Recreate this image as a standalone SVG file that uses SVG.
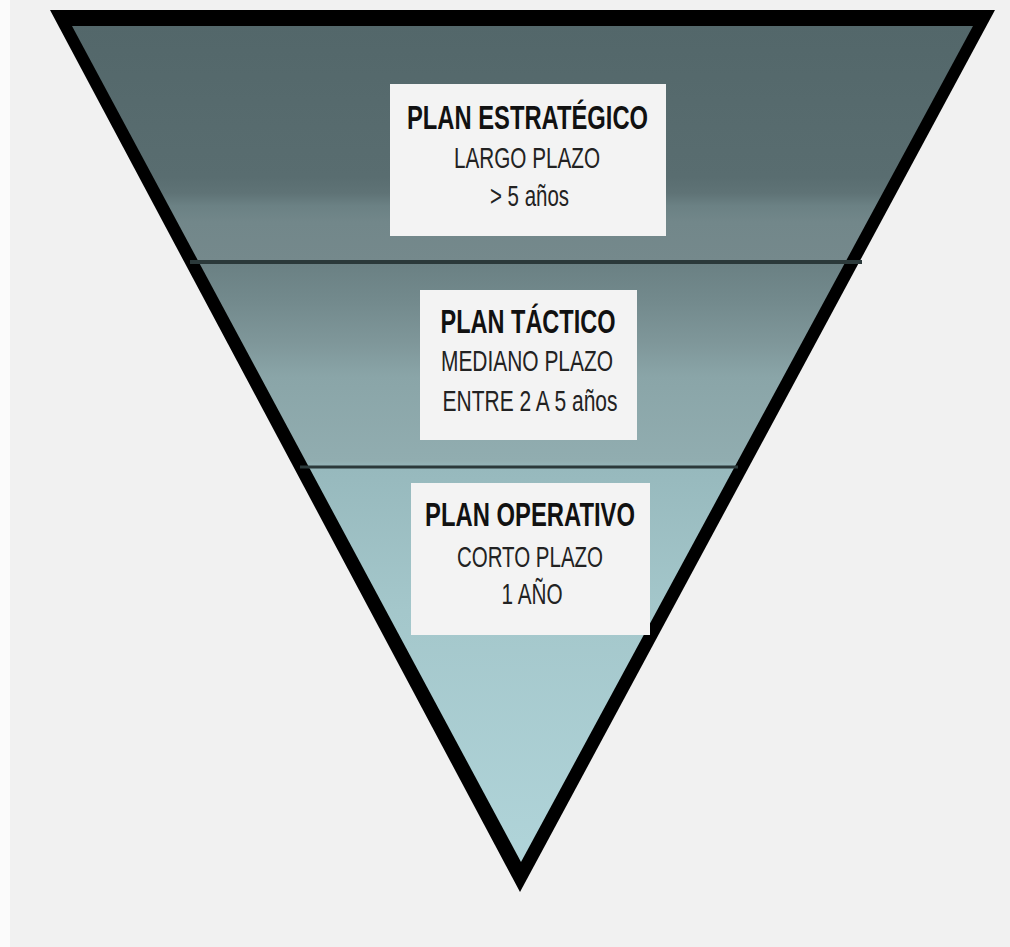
<svg xmlns="http://www.w3.org/2000/svg" width="1010" height="947" viewBox="0 0 1010 947">
  <defs>
    <linearGradient id="fillGrad" gradientUnits="userSpaceOnUse" x1="0" y1="26" x2="0" y2="862">
      <stop offset="0" stop-color="#53676a"/>
      <stop offset="0.18" stop-color="#596d70"/>
      <stop offset="0.2" stop-color="#5f7376"/>
      <stop offset="0.215" stop-color="#6b8184"/>
      <stop offset="0.235" stop-color="#72878a"/>
      <stop offset="0.28" stop-color="#75898c"/>
      <stop offset="0.282" stop-color="#6a8083"/>
      <stop offset="0.33" stop-color="#738a8d"/>
      <stop offset="0.38" stop-color="#7f979a"/>
      <stop offset="0.42" stop-color="#8aa5a8"/>
      <stop offset="0.52" stop-color="#91adb0"/>
      <stop offset="0.53" stop-color="#97b9bd"/>
      <stop offset="0.7" stop-color="#a4c7cb"/>
      <stop offset="1" stop-color="#b0d4d9"/>
    </linearGradient>
    <style>
      .box { fill: #f3f3f3; }
      .head { font-family: "Liberation Sans", Arial, sans-serif; font-weight: bold; font-size: 34px; fill: #111; text-anchor: middle; }
      .sub { font-family: "Liberation Sans", Arial, sans-serif; font-size: 30px; fill: #222; text-anchor: middle; }
      .divider { stroke: #2b393a; fill: none; }
    </style>
  </defs>
  <rect x="0" y="0" width="1010" height="947" fill="#f1f1f1"/>
  <rect x="0" y="0" width="10" height="947" fill="#fbfbfb"/>

  <g id="pyramid">
    <polygon points="50,10 995,10 520,892" fill="#000"/>
    <polygon points="72,26 973,26 521,862" fill="url(#fillGrad)"/>
  </g>

  <g id="dividers">
    <line class="divider" x1="190" y1="262" x2="862" y2="262" stroke-width="4"/>
    <line class="divider" x1="300" y1="467" x2="738" y2="467" stroke-width="3"/>
  </g>

  <g id="plan-estrategico">
    <rect class="box" x="390" y="84" width="276" height="152"/>
    <text class="head" x="527.5" y="129" textLength="241" lengthAdjust="spacingAndGlyphs">PLAN ESTRATÉGICO</text>
    <text class="sub" x="527" y="168" textLength="146" lengthAdjust="spacingAndGlyphs">LARGO PLAZO</text>
    <text class="sub" x="529.5" y="206" textLength="79" lengthAdjust="spacingAndGlyphs">&gt; 5 años</text>
  </g>

  <g id="plan-tactico">
    <rect class="box" x="420" y="290" width="217" height="150"/>
    <text class="head" x="528" y="333" textLength="175" lengthAdjust="spacingAndGlyphs">PLAN TÁCTICO</text>
    <text class="sub" x="527" y="371" textLength="172" lengthAdjust="spacingAndGlyphs">MEDIANO PLAZO</text>
    <text class="sub" x="530" y="411" textLength="175" lengthAdjust="spacingAndGlyphs">ENTRE 2 A 5 años</text>
  </g>

  <g id="plan-operativo">
    <rect class="box" x="411" y="483" width="239" height="152"/>
    <text class="head" x="530" y="526" textLength="210" lengthAdjust="spacingAndGlyphs">PLAN OPERATIVO</text>
    <text class="sub" x="530" y="567" textLength="146" lengthAdjust="spacingAndGlyphs">CORTO PLAZO</text>
    <text class="sub" x="532" y="604" textLength="61" lengthAdjust="spacingAndGlyphs">1 AÑO</text>
  </g>
</svg>
